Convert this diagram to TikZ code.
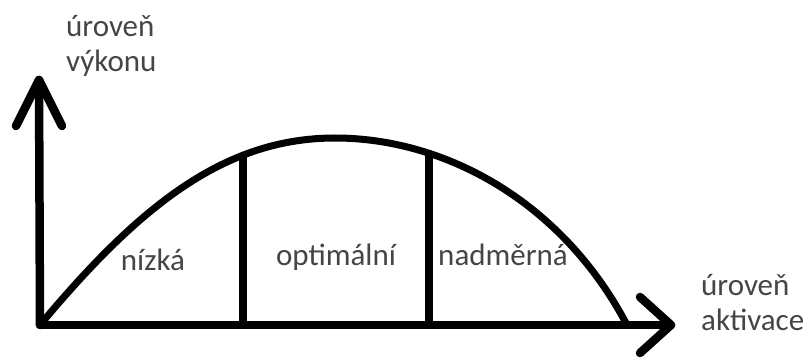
\documentclass[tikz,border=0pt]{standalone}
\usepackage{fontspec}
\setmainfont{Carlito}
\definecolor{txt}{HTML}{454545}
\begin{document}
\begin{tikzpicture}[x=1pt,y=-1pt,
  axisline/.style={line width=8.5pt,line cap=round,line join=round},
  curveline/.style={line width=7pt,line cap=round},
  divline/.style={line width=8pt},
  lbl/.style={text=txt,font=\fontsize{31}{37}\selectfont,inner sep=0pt,anchor=base west}]
\useasboundingbox (0,0) rectangle (803,358);
\coordinate (O) at (40,325);
\coordinate (ytip) at (39,80);
\coordinate (xtip) at (671,325);
% axes
\draw[axisline] (O) -- (ytip);
\draw[axisline] (O) -- (xtip);
\draw[axisline] (16,126) -- (ytip) -- (62,126);
\draw[axisline] (640,297) -- (xtip) -- (640,353);
% curve
\coordinate (peak) at (335,138);
\coordinate (cend) at (627,325);
\draw[curveline] (O) .. controls (140,205) and (225,138) .. (peak)
  .. controls (445,138) and (562,201.5) .. (cend);
% dividers
\coordinate (d1b) at (243,325); \coordinate (d1t) at (243,154);
\coordinate (d2b) at (429,325); \coordinate (d2t) at (429,153);
\draw[divline] (d1b) -- (d1t);
\draw[divline] (d2b) -- (d2t);
% labels
\node[lbl] (yl1) at (66,37) {úroveň};
\node[lbl] (yl2) at (66,72) {výkonu};
\node[lbl] (xl1) at (701,295) {úroveň};
\node[lbl] (xl2) at (701,330) {aktivace};
\node[lbl,anchor=base] (low) at (153,270) {nízká};
\node[lbl,anchor=base] (opt) at (336,265) {optimální};
\node[lbl,anchor=base] (high) at (503,265) {nadměrná};
\end{tikzpicture}
\end{document}
